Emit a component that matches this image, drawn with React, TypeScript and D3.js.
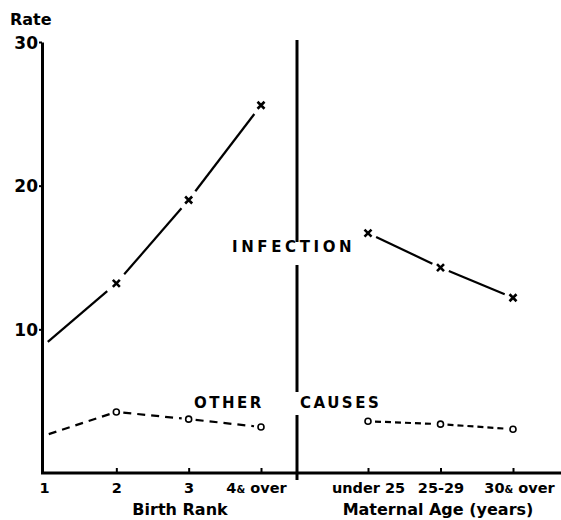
import { useEffect, useRef } from 'react';
import * as d3 from 'd3';

// birth rank panel
const birthRanks = ['1', '2', '3', '4& over'];
const infectionByRank = [8.9, 13.2, 19.0, 25.6];
const otherByRank = [2.6, 4.25, 3.75, 3.2];

// maternal age panel
const maternalAges = ['under 25', '25-29', '30& over'];
const infectionByAge = [16.7, 14.3, 12.2];
const otherByAge = [3.6, 3.4, 3.05];

const yTicks = [10, 20, 30];

type Pt = [number, number];

const App = () => {
    const svgRef = useRef<SVGSVGElement>(null);

    useEffect(() => {
        const width = 561;
        const height = 520;
        const font = '"DejaVu Sans", sans-serif';

        const svg = d3.select(svgRef.current);
        svg.selectAll('*').remove();
        svg.attr('width', width).attr('height', height);

        // scales
        const y = d3.scaleLinear().domain([0, 30]).range([473, 42]);
        const xRank = d3.scalePoint().domain(birthRanks).range([44, 261]);
        const xAge = d3.scalePoint().domain(maternalAges).range([368, 513]);

        const g = svg.append('g').style('font-family', font).style('font-weight', 700);

        // y axis
        const yAxis = d3.axisLeft(y).tickValues(yTicks).tickSize(3).tickSizeOuter(0).tickFormat(d3.format('d'));
        const ya = g.append('g').attr('transform', 'translate(42,0)').call(yAxis);
        ya.select('.domain').attr('stroke', '#000').attr('stroke-width', 3);
        ya.selectAll('.tick line').attr('stroke-width', 2);
        ya.selectAll('.tick text')
            .attr('x', -4)
            .attr('dy', '0.36em')
            .style('font-size', '17px')
            .style('font-family', font)
            .style('font-weight', 700)
            .attr('fill', '#000');

        g.append('text').attr('x', 10).attr('y', 25).style('font-size', '16px').text('Rate');

        // x axis baseline across both panels
        g.append('line')
            .attr('x1', 41).attr('x2', width)
            .attr('y1', y(0)).attr('y2', y(0))
            .attr('stroke', '#000').attr('stroke-width', 3);

        const styleX = (sel: any) => {
            sel.select('.domain').remove();
            sel.selectAll('.tick line').attr('stroke-width', 2);
            sel.selectAll('.tick text')
                .attr('y', 20)
                .attr('dy', 0)
                .style('font-size', '14.5px')
                .style('font-family', font)
                .style('font-weight', 700)
                .attr('fill', '#000')
                .each(function (this: any, d: any) {
                    // small ampersand as in the original lettering
                    const parts = String(d).split('&');
                    if (parts.length < 2) return;
                    const t = d3.select(this).text(null);
                    t.append('tspan').text(parts[0]);
                    t.append('tspan').style('font-size', '10px').text('&');
                    t.append('tspan').text(parts[1]);
                });
        };

        const xa1 = g.append('g').attr('transform', `translate(0,${y(0)})`)
            .call(d3.axisBottom(xRank).tickSize(-5));
        styleX(xa1);
        xa1.selectAll('.tick').filter((d: any) => d === '1').select('line').remove();
        xa1.selectAll('.tick').filter((d: any) => d === '4& over').select('text').attr('x', -5);

        const xa2 = g.append('g').attr('transform', `translate(0,${y(0)})`)
            .call(d3.axisBottom(xAge).tickSize(-5));
        styleX(xa2);
        xa2.selectAll('.tick').filter((d: any) => d === '30& over').select('text').attr('x', 6);

        g.append('text').attr('x', 180).attr('y', 515).attr('text-anchor', 'middle')
            .style('font-size', '16px').text('Birth Rank');
        g.append('text').attr('x', 438).attr('y', 515).attr('text-anchor', 'middle')
            .style('font-size', '16px').text('Maternal Age (years)');

        // divider between panels, broken where the labels cross it
        const divX = 297;
        [[40, 242], [265, 392], [415, 480]].forEach(([a, b]) => {
            g.append('line')
                .attr('x1', divX).attr('x2', divX)
                .attr('y1', a).attr('y2', b)
                .attr('stroke', '#000').attr('stroke-width', 3);
        });

        // segments are cut short near each marker, like the original drawing
        const drawBroken = (pts: Pt[], gaps: number[], dash: string | null) => {
            for (let i = 0; i < pts.length - 1; i++) {
                const [x0, y0] = pts[i];
                const [x1, y1] = pts[i + 1];
                const len = Math.hypot(x1 - x0, y1 - y0);
                const ux = (x1 - x0) / len;
                const uy = (y1 - y0) / len;
                const a = gaps[i];
                const b = gaps[i + 1];
                g.append('line')
                    .attr('x1', x0 + ux * a).attr('y1', y0 + uy * a)
                    .attr('x2', x1 - ux * b).attr('y2', y1 - uy * b)
                    .attr('stroke', '#000')
                    .attr('stroke-width', 2.2)
                    .attr('stroke-dasharray', dash)
                    .attr('stroke-linecap', 'butt');
            }
        };

        const cross = (p: Pt) => {
            const s = 3.5;
            g.append('path')
                .attr('d', `M${p[0] - s},${p[1] - s}L${p[0] + s},${p[1] + s}M${p[0] - s},${p[1] + s}L${p[0] + s},${p[1] - s}`)
                .attr('stroke', '#000').attr('stroke-width', 2.6);
        };
        const ring = (p: Pt) => {
            g.append('circle').attr('cx', p[0]).attr('cy', p[1]).attr('r', 3)
                .attr('fill', '#fff').attr('stroke', '#000').attr('stroke-width', 1.6);
        };

        // infection
        const infRank: Pt[] = birthRanks.map((r, i) => [xRank(r)!, y(infectionByRank[i])]);
        const infAge: Pt[] = maternalAges.map((r, i) => [xAge(r)!, y(infectionByAge[i])]);
        drawBroken(infRank, [5, 12, 11, 11], null);
        drawBroken(infAge, [9, 9, 9], null);
        infRank.slice(1).forEach(cross);
        infAge.forEach(cross);

        // other causes
        const othRank: Pt[] = birthRanks.map((r, i) => [xRank(r)!, y(otherByRank[i])]);
        const othAge: Pt[] = maternalAges.map((r, i) => [xAge(r)!, y(otherByAge[i])]);
        drawBroken(othRank, [5, 7, 7, 7], '8,6');
        drawBroken(othAge, [7, 7, 7], '6,4');
        othRank.slice(1).forEach(ring);
        othAge.forEach(ring);

        // series labels
        g.append('text').attr('x', 232).attr('y', 252)
            .style('font-size', '15px').style('letter-spacing', '3.6px').text('INFECTION');
        g.append('text').attr('x', 194).attr('y', 408)
            .style('font-size', '15px').style('letter-spacing', '2.5px').text('OTHER');
        g.append('text').attr('x', 300).attr('y', 408)
            .style('font-size', '15px').style('letter-spacing', '2.5px').text('CAUSES');
    }, []);

    return (
        <svg ref={svgRef} style={{ position: 'absolute', left: 0, top: 0, background: '#fff' }}></svg>
    );
};

export default App;
